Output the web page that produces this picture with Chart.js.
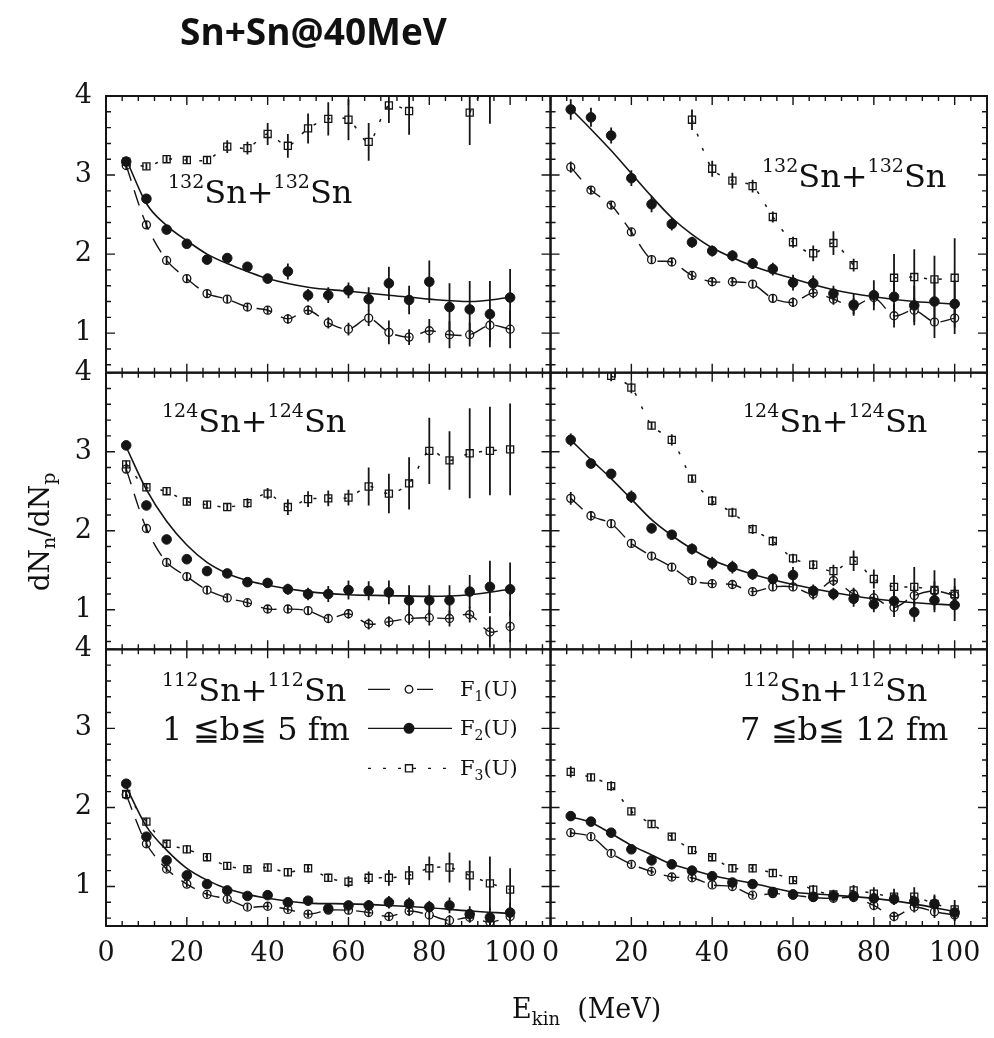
<!DOCTYPE html>
<html>
<head>
<meta charset="utf-8">
<script src="https://cdn.jsdelivr.net/npm/chart.js@4.4.1/dist/chart.umd.min.js"></script>
<style>
  html, body { margin: 0; padding: 0; background: #fff; }
  #wrap { position: relative; width: 994px; height: 1038px; overflow: hidden; }
  #chart { position: absolute; left: 0; top: 0; }
  #labels { position: absolute; left: 0; top: 0; pointer-events: none; }
  #labels text { fill: #111; }
  .serif { font-family: "DejaVu Serif", serif; }
</style>
</head>
<body>
<div id="wrap">
  <canvas id="chart" width="994" height="1038"></canvas>
  <svg id="labels" width="994" height="1038" xmlns="http://www.w3.org/2000/svg">
    <text x="180" y="45" font-family="Open Sans, sans-serif" font-weight="700" font-size="37">Sn+Sn@40MeV</text>

    <!-- axis titles -->
    <text class="serif" font-size="28" text-anchor="middle" transform="translate(49,532) rotate(-90)">dN<tspan font-size="19" dy="6">n</tspan><tspan dy="-6">/dN</tspan><tspan font-size="19" dy="6">p</tspan></text>
    <text class="serif" font-size="27" x="512" y="1018" style="white-space:pre">E<tspan font-size="18" dy="7">kin</tspan><tspan dy="-7">  (MeV)</tspan></text>

    <!-- reaction labels -->
    <text class="serif" font-size="32" x="168" y="203"><tspan font-size="19" dy="-15">132</tspan><tspan dy="15">Sn+</tspan><tspan font-size="19" dy="-15">132</tspan><tspan dy="15">Sn</tspan></text>
    <text class="serif" font-size="32" x="762" y="187"><tspan font-size="19" dy="-15">132</tspan><tspan dy="15">Sn+</tspan><tspan font-size="19" dy="-15">132</tspan><tspan dy="15">Sn</tspan></text>
    <text class="serif" font-size="32" x="162" y="432"><tspan font-size="19" dy="-15">124</tspan><tspan dy="15">Sn+</tspan><tspan font-size="19" dy="-15">124</tspan><tspan dy="15">Sn</tspan></text>
    <text class="serif" font-size="32" x="743" y="432"><tspan font-size="19" dy="-15">124</tspan><tspan dy="15">Sn+</tspan><tspan font-size="19" dy="-15">124</tspan><tspan dy="15">Sn</tspan></text>
    <text class="serif" font-size="32" x="162" y="701"><tspan font-size="19" dy="-15">112</tspan><tspan dy="15">Sn+</tspan><tspan font-size="19" dy="-15">112</tspan><tspan dy="15">Sn</tspan></text>
    <text class="serif" font-size="32" x="743" y="701"><tspan font-size="19" dy="-15">112</tspan><tspan dy="15">Sn+</tspan><tspan font-size="19" dy="-15">112</tspan><tspan dy="15">Sn</tspan></text>
    <text class="serif" font-size="32" x="162" y="740" style="white-space:pre">1 ≦b≦ 5 fm</text>
    <text class="serif" font-size="32" x="740" y="740" style="white-space:pre">7 ≦b≦ 12 fm</text>

    <!-- legend entries -->
    <text class="serif" font-size="21" x="460" y="696">F<tspan font-size="14" dy="5">1</tspan><tspan dy="-5">(U)</tspan></text>
    <text class="serif" font-size="21" x="460" y="735">F<tspan font-size="14" dy="5">2</tspan><tspan dy="-5">(U)</tspan></text>
    <text class="serif" font-size="21" x="460" y="775">F<tspan font-size="14" dy="5">3</tspan><tspan dy="-5">(U)</tspan></text>
  </svg>
</div>
<script>
// Kinetic energy bins (MeV) of the measured ratios
const energies = [5, 10, 15, 20, 25, 30, 35, 40, 45, 50, 55, 60, 65, 70, 75, 80, 85, 90, 95, 100];
// Energies at which the F2(U) model curve is tabulated
const fitEnergies = [5, 10, 15, 20, 25, 30, 35, 40, 50, 60, 70, 80, 90, 100];
const xTickValues = [0, 20, 40, 60, 80, 100];
const yTickValues = [1, 2, 3, 4];

// 132Sn+132Sn, 1 <= b <= 5 fm
const sn132Central_F1    = [3.12, 2.37, 1.92, 1.69, 1.50, 1.43, 1.33, 1.29, 1.18, 1.29, 1.13, 1.05, 1.19, 1.01, 0.95, 1.03, 0.98, 0.98, 1.10, 1.05];
const sn132Central_F1Err = [0.05, 0.05, 0.05, 0.05, 0.05, 0.05, 0.05, 0.05, 0.06, 0.06, 0.07, 0.08, 0.10, 0.15, 0.10, 0.15, 0.17, 0.15, 0.20, 0.24];
const sn132Central_F2    = [3.17, 2.70, 2.31, 2.13, 1.93, 1.95, 1.84, 1.69, 1.78, 1.48, 1.48, 1.54, 1.43, 1.63, 1.42, 1.65, 1.33, 1.30, 1.24, 1.45];
const sn132Central_F2Err = [0.06, 0.05, 0.05, 0.05, 0.05, 0.05, 0.05, 0.06, 0.10, 0.08, 0.10, 0.10, 0.15, 0.21, 0.18, 0.27, 0.30, 0.36, 0.42, 0.36];
const sn132Central_F3    = [3.17, 3.11, 3.20, 3.19, 3.19, 3.36, 3.34, 3.52, 3.37, 3.59, 3.71, 3.70, 3.42, 3.88, 3.81, null, null, 3.79, 4.25, null];
const sn132Central_F3Err = [0.05, 0.04, 0.04, 0.05, 0.05, 0.08, 0.08, 0.14, 0.15, 0.19, 0.21, 0.26, 0.24, 0.22, 0.30, 0, 0, 0.41, 0.60, 0];
const sn132Central_F2Fit = [3.20, 2.64, 2.36, 2.17, 2.00, 1.88, 1.78, 1.69, 1.58, 1.53, 1.48, 1.43, 1.40, 1.45];

// 132Sn+132Sn, 7 <= b <= 12 fm
const sn132Periph_F1    = [3.10, 2.81, 2.62, 2.28, 1.93, 1.90, 1.73, 1.65, 1.65, 1.62, 1.44, 1.39, 1.51, 1.43, 1.34, 1.45, 1.22, 1.29, 1.14, 1.19];
const sn132Periph_F1Err = [0.07, 0.05, 0.05, 0.05, 0.05, 0.05, 0.05, 0.05, 0.05, 0.05, 0.05, 0.06, 0.07, 0.07, 0.10, 0.10, 0.15, 0.15, 0.20, 0.20];
const sn132Periph_F2    = [3.83, 3.73, 3.50, 2.96, 2.63, 2.38, 2.15, 2.04, 1.98, 1.88, 1.81, 1.64, 1.63, 1.50, 1.36, 1.48, 1.46, 1.35, 1.40, 1.37];
const sn132Periph_F2Err = [0.13, 0.12, 0.10, 0.10, 0.10, 0.08, 0.07, 0.07, 0.07, 0.07, 0.08, 0.10, 0.10, 0.10, 0.14, 0.19, 0.20, 0.25, 0.30, 0.30];
const sn132Periph_F3    = [null, null, null, null, null, null, 3.70, 3.08, 2.93, 2.86, 2.47, 2.15, 2.01, 2.14, 1.86, null, 1.70, 1.71, 1.68, 1.70];
const sn132Periph_F3Err = [0, 0, 0, 0, 0, 0, 0.13, 0.10, 0.10, 0.08, 0.07, 0.07, 0.10, 0.15, 0.08, 0, 0.30, 0.35, 0.30, 0.50];
const sn132Periph_F2Fit = [3.84, 3.58, 3.31, 3.02, 2.73, 2.46, 2.25, 2.08, 1.85, 1.69, 1.55, 1.46, 1.40, 1.37];

// 124Sn+124Sn, 1 <= b <= 5 fm
const sn124Central_F1    = [2.78, 2.03, 1.60, 1.42, 1.25, 1.15, 1.09, 1.01, 1.01, 0.99, 0.89, 0.95, 0.82, 0.85, 0.89, 0.90, 0.89, 0.94, 0.72, 0.79];
const sn124Central_F1Err = [0.05, 0.05, 0.05, 0.05, 0.05, 0.05, 0.05, 0.05, 0.05, 0.05, 0.05, 0.06, 0.07, 0.07, 0.08, 0.10, 0.10, 0.10, 0.20, 0.20];
const sn124Central_F2    = [3.08, 2.32, 1.89, 1.64, 1.49, 1.46, 1.35, 1.34, 1.26, 1.20, 1.20, 1.25, 1.24, 1.22, 1.12, 1.12, 1.12, 1.23, 1.29, 1.26];
const sn124Central_F2Err = [0.05, 0.05, 0.05, 0.05, 0.05, 0.05, 0.05, 0.06, 0.07, 0.08, 0.10, 0.12, 0.12, 0.15, 0.19, 0.19, 0.19, 0.21, 0.33, 0.34];
const sn124Central_F3    = [2.84, 2.55, 2.50, 2.37, 2.33, 2.30, 2.35, 2.47, 2.30, 2.40, 2.41, 2.42, 2.56, 2.47, 2.60, 3.01, 2.89, 2.98, 3.01, 3.03];
const sn124Central_F3Err = [0.05, 0.05, 0.05, 0.05, 0.05, 0.05, 0.06, 0.07, 0.10, 0.10, 0.10, 0.10, 0.24, 0.25, 0.33, 0.42, 0.37, 0.57, 0.56, 0.58];
const sn124Central_F2Fit = [3.06, 2.52, 2.12, 1.82, 1.60, 1.46, 1.37, 1.31, 1.23, 1.19, 1.18, 1.17, 1.19, 1.26];

// 124Sn+124Sn, 7 <= b <= 12 fm
const sn124Periph_F1    = [2.41, 2.19, 2.09, 1.84, 1.68, 1.54, 1.37, 1.33, 1.32, 1.23, 1.29, 1.29, 1.20, 1.37, 1.20, 1.15, 1.03, 1.18, 1.24, 1.18];
const sn124Periph_F1Err = [0.08, 0.06, 0.05, 0.05, 0.05, 0.05, 0.05, 0.05, 0.05, 0.05, 0.05, 0.05, 0.07, 0.07, 0.08, 0.10, 0.12, 0.12, 0.12, 0.12];
const sn124Periph_F2    = [3.15, 2.85, 2.72, 2.43, 2.03, 1.95, 1.77, 1.59, 1.54, 1.45, 1.39, 1.44, 1.24, 1.20, 1.14, 1.07, 1.11, 0.97, 1.12, 1.06];
const sn124Periph_F2Err = [0.08, 0.06, 0.06, 0.08, 0.06, 0.06, 0.07, 0.08, 0.08, 0.07, 0.07, 0.10, 0.08, 0.08, 0.10, 0.10, 0.12, 0.12, 0.15, 0.20];
const sn124Periph_F3    = [null, null, 3.96, 3.81, 3.33, 3.15, 2.66, 2.38, 2.23, 2.02, 1.87, 1.65, 1.57, 1.49, 1.62, 1.39, 1.29, 1.29, 1.25, 1.20];
const sn124Periph_F3Err = [0, 0, 0.07, 0.07, 0.05, 0.07, 0.05, 0.06, 0.06, 0.06, 0.06, 0.06, 0.06, 0.08, 0.13, 0.12, 0.15, 0.25, 0.25, 0.20];
const sn124Periph_F2Fit = [3.15, 2.90, 2.66, 2.40, 2.14, 1.94, 1.77, 1.63, 1.45, 1.32, 1.22, 1.14, 1.09, 1.06];

// 112Sn+112Sn, 1 <= b <= 5 fm
const sn112Central_F1    = [2.16, 1.54, 1.22, 1.03, 0.90, 0.84, 0.74, 0.75, 0.71, 0.65, 0.70, 0.70, 0.67, 0.62, 0.69, 0.64, 0.57, 0.61, 0.55, 0.62];
const sn112Central_F1Err = [0.05, 0.05, 0.04, 0.04, 0.04, 0.04, 0.04, 0.04, 0.04, 0.04, 0.04, 0.05, 0.05, 0.05, 0.06, 0.06, 0.07, 0.07, 0.08, 0.08];
const sn112Central_F2    = [2.30, 1.63, 1.33, 1.14, 1.03, 0.95, 0.88, 0.89, 0.80, 0.82, 0.72, 0.76, 0.76, 0.80, 0.78, 0.74, 0.76, 0.65, 0.61, 0.67];
const sn112Central_F2Err = [0.05, 0.05, 0.04, 0.04, 0.04, 0.04, 0.04, 0.05, 0.05, 0.05, 0.06, 0.06, 0.07, 0.08, 0.08, 0.08, 0.10, 0.10, 0.12, 0.12];
const sn112Central_F3    = [2.17, 1.82, 1.54, 1.47, 1.37, 1.26, 1.22, 1.24, 1.18, 1.23, 1.11, 1.06, 1.11, 1.11, 1.14, 1.23, 1.24, 1.14, 1.04, 0.96];
const sn112Central_F3Err = [0.05, 0.05, 0.05, 0.05, 0.05, 0.05, 0.05, 0.05, 0.05, 0.05, 0.05, 0.07, 0.08, 0.10, 0.12, 0.15, 0.19, 0.19, 0.34, 0.27];
const sn112Central_F2Fit = [2.26, 1.76, 1.46, 1.23, 1.08, 0.97, 0.90, 0.85, 0.79, 0.78, 0.76, 0.73, 0.69, 0.66];

// 112Sn+112Sn, 7 <= b <= 12 fm
const sn112Periph_F1    = [1.68, 1.63, 1.42, 1.28, 1.19, 1.12, 1.11, 1.02, 1.00, 0.89, 0.91, 0.89, 0.86, 0.85, 0.86, 0.76, 0.62, 0.74, 0.68, 0.64];
const sn112Periph_F1Err = [0.04, 0.04, 0.04, 0.04, 0.04, 0.04, 0.04, 0.04, 0.04, 0.04, 0.04, 0.04, 0.05, 0.05, 0.05, 0.06, 0.06, 0.07, 0.08, 0.08];
const sn112Periph_F2    = [1.89, 1.82, 1.68, 1.47, 1.33, 1.28, 1.20, 1.13, 1.05, 1.03, 0.93, 0.90, 0.87, 0.88, 0.88, 0.85, 0.84, 0.81, 0.78, 0.67];
const sn112Periph_F2Err = [0.05, 0.04, 0.04, 0.04, 0.04, 0.04, 0.04, 0.04, 0.04, 0.04, 0.04, 0.04, 0.05, 0.05, 0.05, 0.06, 0.07, 0.08, 0.10, 0.10];
const sn112Periph_F3    = [2.45, 2.38, 2.27, 1.95, 1.79, 1.63, 1.46, 1.37, 1.23, 1.23, 1.17, 1.08, 0.96, 0.90, 0.95, 0.91, 0.87, 0.87, 0.78, 0.71];
const sn112Periph_F3Err = [0.07, 0.05, 0.06, 0.05, 0.05, 0.05, 0.05, 0.05, 0.05, 0.05, 0.05, 0.05, 0.06, 0.06, 0.07, 0.08, 0.10, 0.12, 0.12, 0.12];
const sn112Periph_F2Fit = [1.88, 1.81, 1.67, 1.52, 1.40, 1.28, 1.21, 1.14, 1.04, 0.93, 0.89, 0.85, 0.78, 0.68];

const INK = '#151515';

// One panel per (column x-scale, row y-scale)
const panels = [
  { x: 'xLeft',  y: 'yTop',    f1: sn132Central_F1, f1e: sn132Central_F1Err, f2: sn132Central_F2, f2e: sn132Central_F2Err, f3: sn132Central_F3, f3e: sn132Central_F3Err, fit: sn132Central_F2Fit },
  { x: 'xRight', y: 'yTop',    f1: sn132Periph_F1,  f1e: sn132Periph_F1Err,  f2: sn132Periph_F2,  f2e: sn132Periph_F2Err,  f3: sn132Periph_F3,  f3e: sn132Periph_F3Err,  fit: sn132Periph_F2Fit },
  { x: 'xLeft',  y: 'yMiddle', f1: sn124Central_F1, f1e: sn124Central_F1Err, f2: sn124Central_F2, f2e: sn124Central_F2Err, f3: sn124Central_F3, f3e: sn124Central_F3Err, fit: sn124Central_F2Fit },
  { x: 'xRight', y: 'yMiddle', f1: sn124Periph_F1,  f1e: sn124Periph_F1Err,  f2: sn124Periph_F2,  f2e: sn124Periph_F2Err,  f3: sn124Periph_F3,  f3e: sn124Periph_F3Err,  fit: sn124Periph_F2Fit },
  { x: 'xLeft',  y: 'yBottom', f1: sn112Central_F1, f1e: sn112Central_F1Err, f2: sn112Central_F2, f2e: sn112Central_F2Err, f3: sn112Central_F3, f3e: sn112Central_F3Err, fit: sn112Central_F2Fit },
  { x: 'xRight', y: 'yBottom', f1: sn112Periph_F1,  f1e: sn112Periph_F1Err,  f2: sn112Periph_F2,  f2e: sn112Periph_F2Err,  f3: sn112Periph_F3,  f3e: sn112Periph_F3Err,  fit: sn112Periph_F2Fit }
];

const toPoints = (xs, ys) => xs.map((x, i) => ({ x: x, y: ys[i] }));

function panelDatasets(p) {
  const axes = { xAxisID: p.x, yAxisID: p.y };
  return [
    Object.assign({}, axes, {
      label: 'F2(U) model', data: toPoints(fitEnergies, p.fit), showLine: true,
      borderColor: INK, borderWidth: 1.6, pointRadius: 0, cubicInterpolationMode: 'monotone'
    }),
    Object.assign({}, axes, {
      label: 'F1(U)', data: toPoints(energies, p.f1), errorBars: p.f1e, showLine: true,
      borderColor: INK, borderWidth: 1.4, borderDash: [16, 10], tension: 0.3,
      pointStyle: 'circle', pointRadius: 4, pointBorderWidth: 1.3,
      pointBackgroundColor: 'rgba(0,0,0,0)', pointBorderColor: INK
    }),
    Object.assign({}, axes, {
      label: 'F2(U)', data: toPoints(energies, p.f2), errorBars: p.f2e, showLine: false,
      pointStyle: 'circle', pointRadius: 4.8, pointBorderWidth: 1,
      pointBackgroundColor: INK, pointBorderColor: INK
    }),
    Object.assign({}, axes, {
      label: 'F3(U)', data: toPoints(energies, p.f3), errorBars: p.f3e, showLine: true,
      borderColor: INK, borderWidth: 1.5, borderDash: [3, 12], tension: 0.3,
      pointStyle: 'rect', pointRadius: 5, pointBorderWidth: 1.3,
      pointBackgroundColor: 'rgba(0,0,0,0)', pointBorderColor: INK
    })
  ];
}

function clipToPanel(ctx, xs, ys, margin) {
  ctx.beginPath();
  ctx.rect(xs.left - margin, ys.top - margin, xs.right - xs.left + 2 * margin, ys.bottom - ys.top + 2 * margin);
  ctx.clip();
}

// Frames, inward ticks, error bars and the legend key of the panel grid
const panelPlugin = {
  id: 'panelGrid',
  beforeDatasetsDraw(chart) {
    const ctx = chart.ctx;
    chart.data.datasets.forEach((ds) => {
      if (!ds.errorBars) return;
      const xs = chart.scales[ds.xAxisID], ys = chart.scales[ds.yAxisID];
      ctx.save();
      clipToPanel(ctx, xs, ys, 0);
      ctx.strokeStyle = INK;
      ctx.lineWidth = 1.8;
      ctx.beginPath();
      ds.data.forEach((pt, j) => {
        const e = ds.errorBars[j];
        if (pt.y === null || !e) return;
        const px = xs.getPixelForValue(pt.x);
        ctx.moveTo(px, ys.getPixelForValue(pt.y - e));
        ctx.lineTo(px, ys.getPixelForValue(pt.y + e));
      });
      ctx.stroke();
      ctx.restore();
    });
  },
  beforeDatasetDraw(chart, args) {
    const meta = args.meta;
    chart.ctx.save();
    clipToPanel(chart.ctx, meta.xScale, meta.yScale, 3);
  },
  afterDatasetDraw(chart) {
    chart.ctx.restore();
  },
  afterDatasetsDraw(chart) {
    const ctx = chart.ctx;
    ctx.save();
    panels.forEach((p) => {
      const xs = chart.scales[p.x], ys = chart.scales[p.y];
      const l = xs.left, r = xs.right, t = ys.top, b = ys.bottom;
      ctx.strokeStyle = INK;
      ctx.lineWidth = 1.4;
      ctx.beginPath();
      for (let v = 0; v <= xs.max + 1e-6; v += 4) {
        const px = xs.getPixelForValue(v);
        const len = (v % 20 === 0) ? 9 : 5;
        ctx.moveTo(px, b); ctx.lineTo(px, b - len);
        ctx.moveTo(px, t); ctx.lineTo(px, t + len);
      }
      for (let k = 3; k <= 20; k++) {
        const v = k / 5;
        const py = ys.getPixelForValue(v);
        const len = (k % 5 === 0) ? 9 : 5;
        ctx.moveTo(l, py); ctx.lineTo(l + len, py);
        ctx.moveTo(r, py); ctx.lineTo(r - len, py);
      }
      ctx.stroke();
      ctx.lineWidth = 2;
      ctx.strokeRect(l, t, r - l, b - t);
    });

    // legend key inside the central 112Sn panel
    const xs = chart.scales.xLeft, ys = chart.scales.yBottom;
    const x0 = xs.left + 262, x1 = xs.left + 346, xm = xs.left + 303;
    const rows = [ys.top + 40, ys.top + 79, ys.top + 119];
    const draw = Chart.helpers.drawPoint;
    ctx.strokeStyle = INK;
    ctx.lineWidth = 1.4;
    ctx.setLineDash([22, 27]);
    ctx.beginPath(); ctx.moveTo(x0, rows[0]); ctx.lineTo(x0 + 65, rows[0]); ctx.stroke();
    ctx.setLineDash([]);
    ctx.beginPath(); ctx.moveTo(x0, rows[1]); ctx.lineTo(x1, rows[1]); ctx.stroke();
    ctx.setLineDash([3, 12]);
    ctx.beginPath(); ctx.moveTo(x0, rows[2]); ctx.lineTo(x1, rows[2]); ctx.stroke();
    ctx.setLineDash([]);
    ctx.fillStyle = '#fff';
    draw(ctx, { pointStyle: 'circle', radius: 3.8, borderWidth: 1.3 }, xm, rows[0]);
    ctx.fillStyle = INK;
    draw(ctx, { pointStyle: 'circle', radius: 4.8, borderWidth: 1 }, xm, rows[1]);
    ctx.fillStyle = '#fff';
    draw(ctx, { pointStyle: 'rect', radius: 5, borderWidth: 1.3 }, xm, rows[2]);
    ctx.restore();
  }
};

const tickFont = { family: 'DejaVu Serif', size: 27 };

// Edge labels may overhang the plot frame; no extra room is reserved for them
function noOverhang(scale) {
  scale.paddingLeft = 0;
  scale.paddingRight = 0;
  scale.paddingTop = 0;
  scale.paddingBottom = 0;
}

function rowScale() {
  return {
    type: 'linear', position: 'left', stack: 'rows', stackWeight: 1,
    min: 0.5, max: 4,
    grid: { display: false, drawTicks: false },
    border: { display: false },
    afterBuildTicks: (scale) => { scale.ticks = yTickValues.map((v) => ({ value: v })); },
    afterFit: (scale) => { scale.width = 106; noOverhang(scale); },
    ticks: { color: INK, font: tickFont, padding: 14, autoSkip: false }
  };
}

function columnScale(max) {
  return {
    type: 'linear', position: 'bottom', stack: 'cols', stackWeight: max,
    min: 0, max: max,
    grid: { display: false, drawTicks: false },
    border: { display: false },
    afterBuildTicks: (scale) => { scale.ticks = xTickValues.map((v) => ({ value: v })); },
    afterFit: (scale) => { scale.height = 112; noOverhang(scale); },
    ticks: { color: INK, font: tickFont, padding: 12, autoSkip: false, maxRotation: 0 }
  };
}

new Chart(document.getElementById('chart'), {
  type: 'scatter',
  data: { datasets: panels.flatMap(panelDatasets) },
  options: {
    responsive: false,
    devicePixelRatio: 1,
    animation: false,
    events: [],
    layout: { padding: { left: 0, right: 7, top: 96, bottom: 0 } },
    plugins: { legend: { display: false }, tooltip: { enabled: false } },
    scales: {
      yBottom: rowScale(),
      yMiddle: rowScale(),
      yTop: rowScale(),
      xLeft: columnScale(110),
      xRight: columnScale(108)
    }
  },
  plugins: [panelPlugin]
});
</script>
</body>
</html>
